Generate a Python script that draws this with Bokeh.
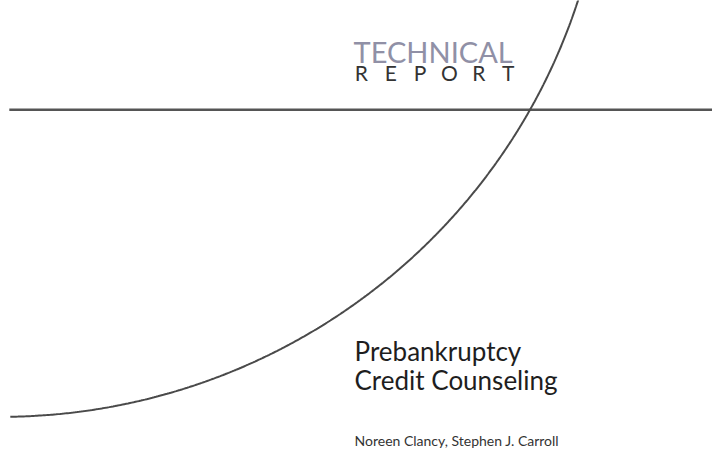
import numpy as np
from bokeh.plotting import figure
from bokeh.models import Range1d
from bokeh.core.properties import value
from bokeh.embed import file_html
from bokeh.resources import INLINE

# ---- content ----
header_top = "TECHNICAL"
header_bottom = ["R", "E", "P", "O", "R", "T"]
title_lines = ["Prebankruptcy", "Credit Counseling"]
authors = "Noreen Clancy, Stephen J. Carroll"

W, H = 728, 470
FONT = "Lato"

# whole cover (728x470 units) mapped onto the 712x454 figure
p = figure(width=712, height=454, output_backend="svg", toolbar_location=None,
           x_range=Range1d(0, W), y_range=Range1d(0, H), min_border=0)
p.axis.visible = False
p.grid.visible = False
p.outline_line_color = None
p.background_fill_color = "white"
p.border_fill_color = "white"

def Y(sy):
    return H - sy

def base(sy, size):
    # compensate for where the renderer puts the text baseline
    return H - (sy - 0.36 * size)

# horizontal rule
p.segment(x0=[9], y0=[Y(113)], x1=[730], y1=[Y(113)], line_color="#555555", line_width=2.5)

# large circle arc: centre and radius of the cover's curve
R = 620
cx, cy = 0, Y(-189)
t0 = np.arctan2(Y(430) - cy, 10 - cx)
t1 = np.arctan2(Y(-10) - cy, 590 - cx)
t = np.linspace(t0, t1, 400)
p.line(x=cx + R * np.cos(t), y=cy + R * np.sin(t), line_color="#4a4a4a", line_width=2)

# header
p.text(x=[361], y=[base(63, 29)], text=[header_top], text_font=value(FONT), text_font_size="29px",
       text_color="#9090a6", text_align="left", text_baseline="alphabetic")
xs = np.linspace(369, 519, len(header_bottom))
p.text(x=xs, y=[base(82, 21)] * len(header_bottom), text=header_bottom, text_font=value(FONT),
       text_font_size="21px", text_color="#333333", text_align="center", text_baseline="alphabetic")

# title
p.text(x=[362, 362], y=[base(372, 26), base(402, 26)], text=title_lines, text_font=value(FONT),
       text_font_size="26px", text_color="#1e1e1e", text_align="left", text_baseline="alphabetic")

# authors
p.text(x=[362], y=[base(461, 14)], text=[authors], text_font=value(FONT), text_font_size="14px",
       text_color="#333333", text_align="left", text_baseline="alphabetic")

open("out.html", "w").write(file_html(p, INLINE))
